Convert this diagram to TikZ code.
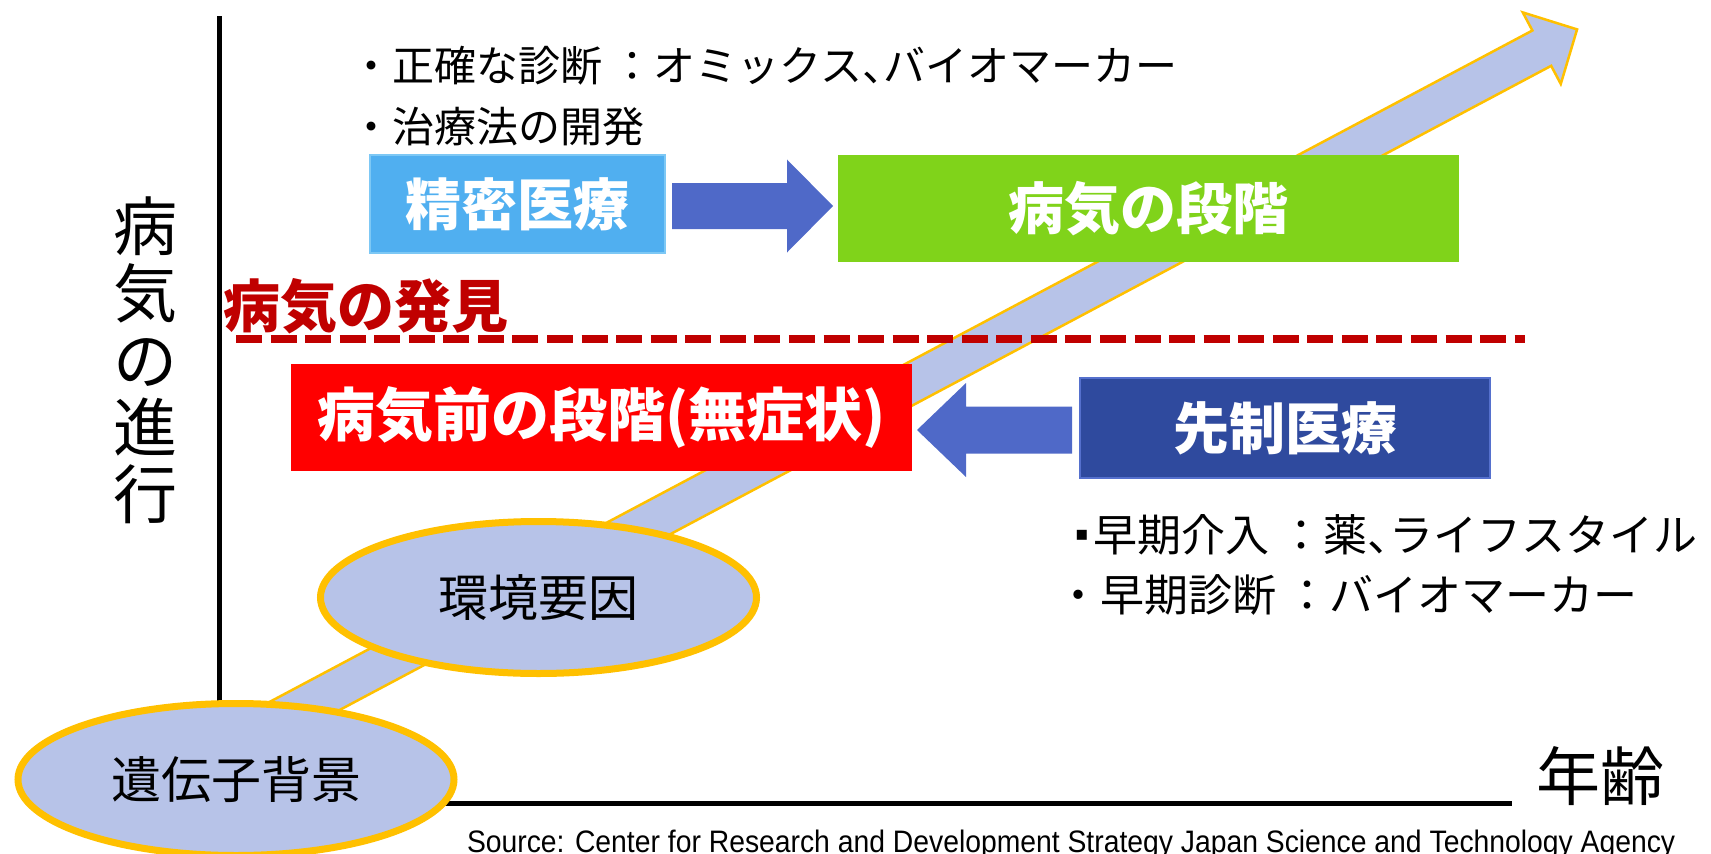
\documentclass[tikz,border=0pt]{standalone}
\usepackage{fontspec}
\setmainfont{Liberation Sans}
\newfontfamily\jp{Noto Sans CJK JP}
\newfontfamily\dv{DejaVu Sans}
\usetikzlibrary{shapes.geometric,calc}
\definecolor{pmblue}{RGB}{80,175,240}
\definecolor{pmedge}{RGB}{125,200,245}
\definecolor{arrblue}{RGB}{79,105,200}
\definecolor{stgreen}{RGB}{128,211,26}
\definecolor{sdblue}{RGB}{47,74,158}
\definecolor{sdedge}{RGB}{85,112,205}
\definecolor{lav}{RGB}{183,195,232}
\definecolor{gold}{RGB}{255,192,0}
\definecolor{dred}{RGB}{192,0,0}
\newcommand{\nc}{\makebox[0.5em][l]{、}}
\tikzset{
  box/.style={rectangle, inner sep=0, outer sep=0, text=white,
    font=\jp\bfseries\fontsize{56}{60}\selectfont},
  oval/.style={ellipse, draw=gold, line width=7, fill=lav, inner sep=0, outer sep=0,
    minimum width=436, minimum height=152, text=black},
  blockarrow/.style={fill=arrblue, draw=none},
  bigarrow/.style={fill=lav, draw=gold, line width=2.5, line join=miter},
  axis/.style={draw=black, line width=5},
  plain/.style={inner sep=0, outer sep=0, text=black},
}
\begin{document}
\begin{tikzpicture}[x=1pt,y=-1pt]
\useasboundingbox (0,0) rectangle (1711,854);
\clip (0,0) rectangle (1711,854);
% axes
\coordinate (otop) at (219,16);
\coordinate (orig) at (219,803);
\coordinate (xend) at (1512,803);
\draw[axis] (otop) -- (orig) -- (xend);
% big arrow
\begin{scope}[shift={(250,735)},rotate=28]
\draw[bigarrow] (0,-20) -- (1463,-20) -- (1463,-40.5) -- (1503,0) -- (1463,40.5) -- (1463,20) -- (0,20) -- cycle;
\end{scope}
% ellipses
\node[oval, font=\jp\fontsize{50}{54}\selectfont] (env) at (538.5,597.5) {環境要因};
\node[oval, font=\jp\fontsize{50}{54}\selectfont] (gen) at (236,779.5) {遺伝子背景};
% boxes
\node[box, fill=pmblue, draw=pmedge, line width=1.5, minimum width=295, minimum height=98] (pm) at (517.5,204) {精密医療};
\node[box, fill=stgreen, minimum width=621, minimum height=107] (st) at (1148.5,208.5) {病気の段階};
\node[box, fill=red, minimum width=621, minimum height=107, font=\jp\bfseries\fontsize{58}{60}\selectfont] (pre) at (601.5,417.5) {病気前の段階(無症状)};
\node[box, fill=sdblue, draw=sdedge, line width=2, minimum width=410, minimum height=100] (sd) at (1285,428) {先制医療};
% block arrows
\coordinate (a1s) at ($(pm.east)+(7,2)$);
\coordinate (a1t) at ($(st.west)+(-5,-2.5)$);
\fill[blockarrow] ($(a1s)+(0,-23)$) -- ($(a1t)+(-46,-23)$) -- ($(a1t)+(-46,-46.5)$) -- (a1t)
  -- ($(a1t)+(-46,46.5)$) -- ($(a1t)+(-46,23)$) -- ($(a1s)+(0,23)$) -- cycle;
\coordinate (a2s) at ($(sd.west)+(-8,2)$);
\coordinate (a2t) at ($(pre.east)+(5,12.5)$);
\fill[blockarrow] ($(a2s)+(0,-23.5)$) -- ($(a2t)+(49,-23.5)$) -- ($(a2t)+(49,-47)$) -- (a2t)
  -- ($(a2t)+(49,47)$) -- ($(a2t)+(49,23.5)$) -- ($(a2s)+(0,23.5)$) -- cycle;
% discovery line
\coordinate (dl1) at (236,339);
\coordinate (dl2) at (1525,339);
\draw[dred, line width=8, dash pattern=on 26 off 8.56] (dl1) -- (dl2);
\node[plain, anchor=west, text=dred, font=\jp\bfseries\fontsize{57}{60}\selectfont] (disc) at (223,306) {病気の発見};
% texts
\node[plain, anchor=west, font=\jp\fontsize{42}{48}\selectfont] (t1) at (350,66) {・正確な診断 ：オミックス\nc バイオマーカー};
\node[plain, anchor=west, font=\jp\fontsize{42}{48}\selectfont] (t2) at (350,127) {・治療法の開発};
\node[plain, anchor=west, font=\jp\fontsize{44}{48}\selectfont] (t3) at (1075,535) {{\dv\fontsize{20}{24}\selectfont\raisebox{11pt}{▪}}\hspace{5pt}早期介入 ：薬\nc ライフスタイル};
\node[plain, anchor=west, font=\jp\fontsize{44}{48}\selectfont] (t4) at (1056,595) {・早期診断 ：バイオマーカー};
\node[plain, align=center, font=\jp\fontsize{64}{67}\selectfont] (ylab) at (145,360) {病\\気\\の\\進\\行};
\node[plain, font=\jp\fontsize{64}{68}\selectfont] (xlab) at (1600,776) {年齢};
\node[plain, anchor=base west] (src) at (467,852) {\resizebox{1208pt}{22.5pt}{Source: Center for Research and Development Strategy Japan Science and Technology Agency}};
\end{tikzpicture}
\end{document}
